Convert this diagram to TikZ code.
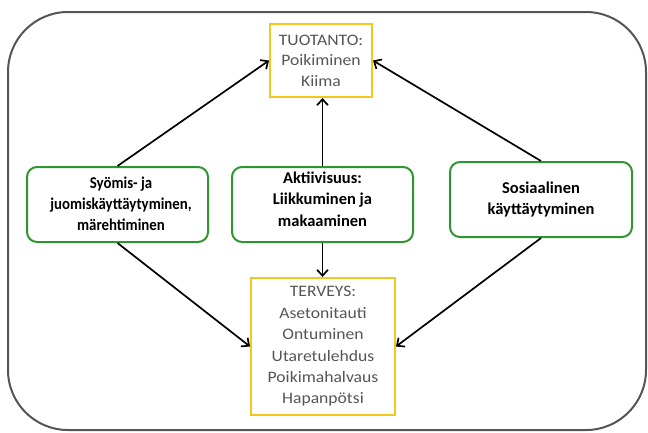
\documentclass[tikz,border=0pt]{standalone}
\usepackage{fontspec}
\setmainfont{Carlito}
\newfontfamily\tuofont{Carlito}[FakeStretch=1.1]
\newfontfamily\terfont{Carlito}[FakeStretch=1.1]
\newfontfamily\syofont{Carlito}[FakeStretch=0.9]
\usetikzlibrary{arrows.meta}
\definecolor{gboxc}{RGB}{46,150,46}
\definecolor{yboxc}{RGB}{242,200,30}
\definecolor{gtext}{RGB}{85,85,85}
\definecolor{outerc}{RGB}{85,85,85}
\begin{document}
\begin{tikzpicture}[x=1pt,y=-1pt,
  gbox/.style={draw=gboxc,line width=2pt,rounded corners=10pt,minimum width=181pt,minimum height=75pt,inner sep=0pt,align=center,font=\fontsize{16.5}{21.5}\selectfont\bfseries,text=black},
  gtxt/.style={inner sep=0pt,align=center,font=\fontsize{16.5}{21.5}\selectfont\bfseries,text=black},
  ybox/.style={draw=yboxc,line width=2pt,inner sep=0pt,align=center,text=gtext},
  conn/.style={line width=1.7pt,-{Straight Barb[length=6pt,width=11pt,line width=1.7pt]}}]
\useasboundingbox (0,0) rectangle (648,432);
\draw[outerc,line width=2pt,rounded corners=60pt] (8,12) rectangle (646,430);
\node[ybox,minimum width=102pt,minimum height=73pt,font=\fontsize{16}{20.5}\selectfont\tuofont] (t) at (321,60.5) {TUOTANTO:\\Poikiminen\\Kiima};
\node[ybox,minimum width=144pt,minimum height=137pt,font=\fontsize{16}{21.4}\selectfont\terfont] (h) at (323,346.5) {TERVEYS:\\Asetonitauti\\Ontuminen\\Utaretulehdus\\Poikimahalvaus\\Hapanpötsi};
\node[gbox] (g1) at (117.5,204.5) {};
\node[gtxt,font=\fontsize{16.5}{21}\selectfont\syofont\bfseries] (g1t) at (121,204) {Syömis- ja\\juomiskäyttäytyminen,\\märehtiminen};
\node[gbox] (g2) at (322.5,204.5) {};
\node[gtxt] (g2t) at (322.5,199) {Aktiivisuus:\\Liikkuminen ja\\makaaminen};
\node[gbox,minimum width=182pt] (g3) at (541,199.5) {Sosiaalinen\\käyttäytyminen};
\draw[conn] (g1.north) -- (t.west);
\draw[conn] (g2.north) -- (g2.north |- t.south);
\draw[conn] (g3.north) -- (t.east);
\draw[conn] (g1.south) -- (h.west);
\draw[conn] (g2.south) -- (g2.south |- h.north);
\draw[conn] (g3.south) -- (h.east);
\end{tikzpicture}
\end{document}
